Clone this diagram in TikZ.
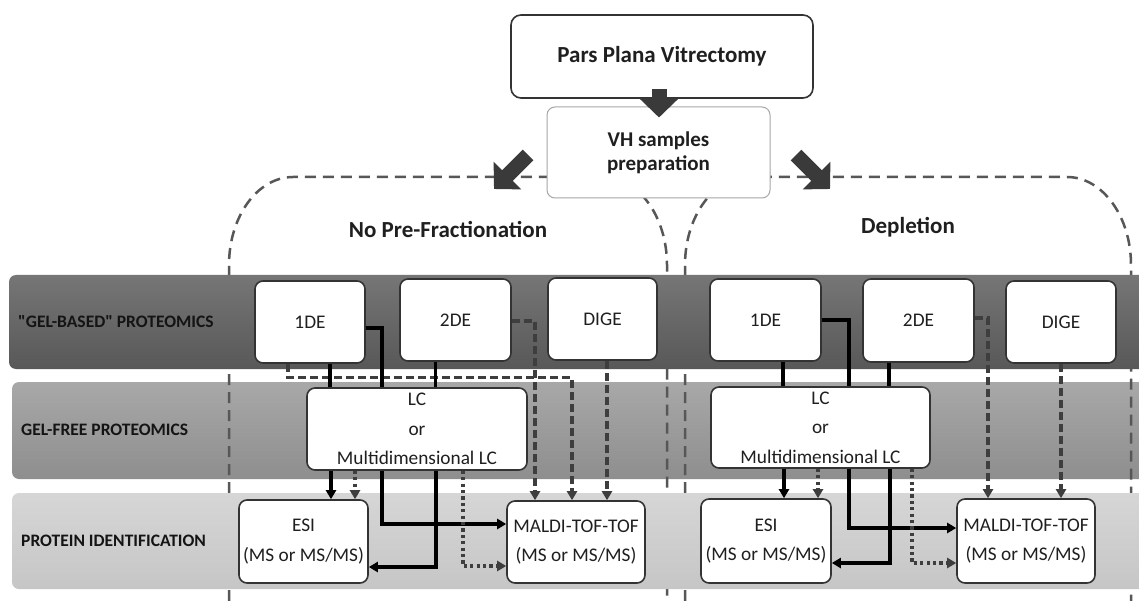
\documentclass[tikz,border=0pt]{standalone}
\usepackage{fontspec}
\setmainfont{Carlito}
\newfontfamily\labelfont{Carlito}[Ligatures=ResetAll]
\usetikzlibrary{arrows.meta,calc}

\definecolor{bandAtop}{RGB}{118,118,118}
\definecolor{bandAbot}{RGB}{88,88,88}
\definecolor{bandBtop}{RGB}{168,168,168}
\definecolor{bandBbot}{RGB}{142,142,142}
\definecolor{bandCtop}{RGB}{214,214,214}
\definecolor{bandCbot}{RGB}{198,198,198}
\definecolor{inkgray}{RGB}{62,62,62}
\definecolor{blockgray}{RGB}{58,58,58}

\begin{document}
\begin{tikzpicture}[x=1pt,y=-1pt,
  box/.style={draw=black!80, line width=1.6pt, rounded corners=8pt, fill=white,
    inner sep=0pt, align=center, text=black!88, font=\fontsize{19.3}{29.5}\selectfont},
  bandlabel/.style={anchor=west, inner sep=0pt, text=black!92,
    font=\labelfont\bfseries\fontsize{17.5}{19}\selectfont},
  regiontitle/.style={text=black!88, font=\bfseries\fontsize{23}{26}\selectfont},
  region/.style={draw=black!66, line width=2.5pt, dash pattern=on 11pt off 7pt},
  solidln/.style={draw=black, line width=3.2pt},
  dashln/.style={draw=inkgray, line width=3.2pt, dash pattern=on 8pt off 4pt},
  dotln/.style={draw=inkgray, line width=3.2pt, dash pattern=on 3.2pt off 3.2pt},
  tip/.style={-{Triangle[length=9pt,width=10pt]}},
  blockarrow/.style={draw=blockgray, line width=15pt,
    -{Triangle[length=19pt 0 0,width=38pt 0 0]}}
]
\useasboundingbox (0,0) rectangle (1139,601);
\fill[white] (0,0) rectangle (1139,601);
\clip (0,0) rectangle (1139,601);

% middle band sits beneath the dashed outlines
\shade[top color=bandBtop, bottom color=bandBbot, rounded corners=7pt]
  (12,382) rectangle (1170,479);

% dashed outlines of the two sample branches
\draw[region] (229,601) -- (229,265)
  arc[start angle=180, end angle=270, x radius=64, y radius=88] -- (603,177)
  arc[start angle=270, end angle=360, x radius=64, y radius=88] -- (667,601);
\draw[region] (685,601) -- (685,265)
  arc[start angle=180, end angle=270, x radius=64, y radius=88] -- (1067,177)
  arc[start angle=270, end angle=360, x radius=64, y radius=88] -- (1131,601);

% top and bottom bands
\shade[top color=bandAtop, bottom color=bandAbot, rounded corners=7pt]
  (9,275) rectangle (1170,369);
\shade[top color=bandCtop, bottom color=bandCbot, rounded corners=7pt]
  (12,493) rectangle (1170,589);

\node[bandlabel] (lblgel) at (18,322) {"GEL-BASED" PROTEOMICS};
\node[bandlabel] (lblfree) at (21,430) {GEL-FREE PROTEOMICS};
\node[bandlabel] (lblid) at (21,541) {PROTEIN IDENTIFICATION};

% sample workflow head
\node[box, minimum width=302pt, minimum height=83pt, rounded corners=10pt,
  font=\bfseries\fontsize{23}{26}\selectfont] (pars) at (662,56.5) {Pars Plana Vitrectomy};
\node[box, draw=black!35, line width=1pt, minimum width=223pt, minimum height=91pt,
  font=\bfseries\fontsize{21}{24}\selectfont] (vh) at (658.5,152.5) {VH samples\\preparation};

\node[regiontitle] (nopre) at (448,229) {No Pre-Fractionation};
\node[regiontitle] (depl) at (908,227) {Depletion};

\coordinate (dTail) at ($(pars.south)+(-3,-10)$);
\coordinate (dTip) at ($(vh.north)+(0.5,11)$);
\coordinate (lTail) at (528,155);
\coordinate (lTip) at (494,189);
\coordinate (rTail) at (796,155);
\coordinate (rTip) at (830,189);
\draw[blockarrow] (dTail) -- (dTip);
\draw[blockarrow] (lTail) -- (lTip);
\draw[blockarrow] (rTail) -- (rTip);

% left branch: no pre-fractionation
\node[box, minimum width=110pt, minimum height=82pt] (lA) at (310,322) {1DE};
\node[box, minimum width=111pt, minimum height=82pt] (lB) at (455.5,320) {2DE};
\node[box, minimum width=109pt, minimum height=82pt] (lC) at (602.5,319) {DIGE};
\node[box, minimum width=220pt, minimum height=82pt] (lLC) at (417,429) {LC\\or\\Multidimensional LC};
\node[box, minimum width=129pt, minimum height=83pt] (lESI) at (303.5,541.5) {ESI\\(MS or MS/MS)};
\node[box, minimum width=138pt, minimum height=82pt] (lMS) at (576,542) {MALDI-TOF-TOF\\(MS or MS/MS)};

% right branch: depletion
\node[box, minimum width=111pt, minimum height=82pt] (rA) at (765.5,320) {1DE};
\node[box, minimum width=111pt, minimum height=83pt] (rB) at (918.5,320.5) {2DE};
\node[box, minimum width=110pt, minimum height=82pt] (rC) at (1061,322) {DIGE};
\node[box, minimum width=219pt, minimum height=81pt] (rLC) at (820.5,427.5) {LC\\or\\Multidimensional LC};
\node[box, minimum width=130pt, minimum height=84pt] (rESI) at (766,541) {ESI\\(MS or MS/MS)};
\node[box, minimum width=138pt, minimum height=84pt] (rMS) at (1026,541) {MALDI-TOF-TOF\\(MS or MS/MS)};

% left branch connectors
\coordinate (la1) at ($(lA.south)+(-22,0)$);
\draw[dashln, tip] (la1) -- ++(0,14) -| ($(lMS.north)+(-4,0)$);
\draw[dashln, tip] ($(lB.east)+(0,1)$) -| ($(lMS.north)+(-41,0)$);
\coordinate (lc1) at ($(lC.south)+(4.5,0)$);
\draw[dashln, tip] (lc1) -- (lc1 |- lMS.north);

\coordinate (la2) at ($(lA.south)+(20,0)$);
\draw[solidln] (la2) -- (la2 |- lLC.north);
\draw[solidln] ($(lA.east)+(0,6)$) -| ($(lLC.north)+(-35,0)$);
\coordinate (lb1) at ($(lB.south)+(-20,0)$);
\draw[solidln] (lb1) -- (lb1 |- lLC.north);

\coordinate (lo1) at ($(lLC.south)+(-86,0)$);
\draw[solidln, tip] (lo1) -- (lo1 |- lESI.north);
\coordinate (lo2) at ($(lLC.south)+(-62,0)$);
\draw[dotln, tip] (lo2) -- (lo2 |- lESI.north);
\draw[solidln, tip] ($(lLC.south)+(-35,0)$) |- ($(lMS.west)+(0,-18)$);
\draw[solidln, tip] ($(lLC.south)+(19,0)$) |- ($(lESI.east)+(0,25.5)$);
\draw[dotln, tip] ($(lLC.south)+(46,0)$) |- ($(lMS.west)+(0,24)$);

% right branch connectors
\draw[dashln, tip] ($(rB.east)+(0,-2.5)$) -| ($(rMS.north)+(-38,0)$);
\draw[dashln, tip] (rC.south) -- (rC.south |- rMS.north);

\draw[solidln] (rA.east) -| ($(rLC.north)+(28.5,0)$);
\coordinate (ra1) at ($(rA.south)+(17.5,0)$);
\draw[solidln] (ra1) -- (ra1 |- rLC.north);
\coordinate (rb1) at ($(rB.south)+(-29.5,0)$);
\draw[solidln] (rb1) -- (rb1 |- rLC.north);

\coordinate (ro1) at ($(rLC.south)+(-36.5,0)$);
\draw[solidln, tip] (ro1) -- (ro1 |- rESI.north);
\coordinate (ro2) at ($(rLC.south)+(-2.5,0)$);
\draw[dotln, tip] (ro2) -- (ro2 |- rESI.north);
\draw[solidln, tip] ($(rLC.south)+(28.5,0)$) |- ($(rMS.west)+(0,-13)$);
\draw[solidln, tip] ($(rLC.south)+(69.5,0)$) |- ($(rESI.east)+(0,22)$);
\draw[dotln, tip] ($(rLC.south)+(91.5,0)$) |- ($(rMS.west)+(0,22)$);
\end{tikzpicture}
\end{document}
